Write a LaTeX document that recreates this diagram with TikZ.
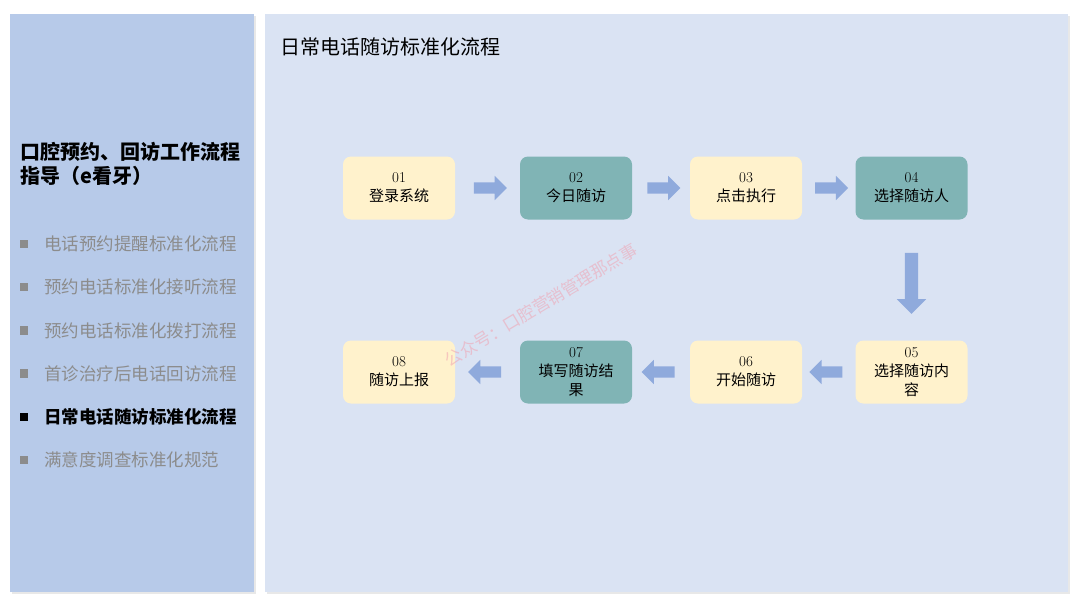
\documentclass[tikz,border=0pt]{standalone}
\usepackage{fontspec}
\newfontfamily\cjk{Noto Sans CJK SC}
\usetikzlibrary{shapes.arrows,shadows}
\definecolor{sidec}{HTML}{B7CAE9}
\definecolor{mainc}{HTML}{DAE3F3}
\definecolor{pale}{HTML}{FFF2CC}
\definecolor{sea}{HTML}{80B4B5}
\definecolor{flowc}{HTML}{8FAADC}
\definecolor{mute}{HTML}{8C8C8C}
\definecolor{wmark}{HTML}{F0A3B2}
\tikzset{
  panel/.style={fill=#1,draw=none,inner sep=0pt,drop shadow={opacity=0.18,shadow xshift=2pt,shadow yshift=-2pt}},
  stage/.style={fill=#1,draw=none,rounded corners=8pt,minimum width=112pt,minimum height=63pt,
                align=center,inner sep=2pt,font=\fontsize{15}{19}\selectfont},
  stage/.default=pale,
  flow/.style={single arrow,fill=flowc,draw=none,inner sep=5.5pt,minimum height=33pt,
               single arrow head extend=6.5pt,single arrow head indent=0pt,shape border rotate=#1},
  flow/.default=0,
  item/.style={anchor=west,inner sep=0pt,text=#1,font=\cjk\fontsize{17.5}{20}\selectfont},
  dot/.style={fill=#1,draw=none,minimum size=8.5pt,inner sep=0pt},
}
\begin{document}
\begin{tikzpicture}[x=1pt,y=-1pt]
  \fill[white] (0,0) rectangle (1080,608);
  \useasboundingbox (0,0) rectangle (1080,608);
  % panels
  \node[panel=sidec,minimum width=244pt,minimum height=578pt] (side) at (132,303) {};
  \node[panel=mainc,minimum width=803pt,minimum height=578pt] (main) at (666.5,303) {};

  % side menu
  \node[anchor=west,inner sep=0pt,align=left,font=\cjk\bfseries\fontsize{20}{24}\selectfont] (head) at (20,164)
    {口腔预约、回访工作流程\\指导（e看牙）};
  \foreach \t/\c/\w [count=\i] in {电话预约提醒标准化流程/mute/\mdseries,预约电话标准化接听流程/mute/\mdseries,
      预约电话标准化拨打流程/mute/\mdseries,首诊治疗后电话回访流程/mute/\mdseries,
      日常电话随访标准化流程/black/\bfseries,满意度调查标准化规范/mute/\mdseries}{
    \node[dot=\c] (d\i) at (24,{244+43.2*(\i-1)}) {};
    \node[item=\c] (m\i) at (44,{244+43.2*(\i-1)}) {\w\t};
  }

  % title
  \node[anchor=west,inner sep=0pt,font=\cjk\fontsize{20}{24}\selectfont] (title) at (280,47) {日常电话随访标准化流程};

  % stages
  \node[stage] (s1) at (399,188) {01\\\cjk 登录系统};
  \node[stage=sea] (s2) at (576,188) {02\\\cjk 今日随访};
  \node[stage] (s3) at (746,188) {03\\\cjk 点击执行};
  \node[stage=sea] (s4) at (911.5,188) {04\\\cjk 选择随访人};
  \node[stage] (s5) at (911.5,372) {05\\\cjk 选择随访内\\\cjk 容};
  \node[stage] (s6) at (746,372) {06\\\cjk 开始随访};
  \node[stage=sea] (s7) at (576,372) {07\\\cjk 填写随访结\\\cjk 果};
  \node[stage] (s8) at (399,372) {08\\\cjk 随访上报};

  % arrows
  \path (s1) -- node[flow] (f1) {} (s2);
  \path (s2) -- node[flow] (f2) {} (s3);
  \path (s3) -- node[flow] (f3) {} (s4);
  \path (s4) -- node[flow=270,inner sep=6.5pt,minimum height=61pt,single arrow head extend=8pt] (f4) {} (s5);
  \path (s5) -- node[flow=180] (f5) {} (s6);
  \path (s6) -- node[flow=180] (f6) {} (s7);
  \path (s7) -- node[flow=180] (f7) {} (s8);

  % watermark
  \node[rotate=31,text=wmark,opacity=0.55,font=\cjk\fontsize{17}{20}\selectfont] (wm) at (541,305) {公众号：口腔营销管理那点事};
\end{tikzpicture}
\end{document}
